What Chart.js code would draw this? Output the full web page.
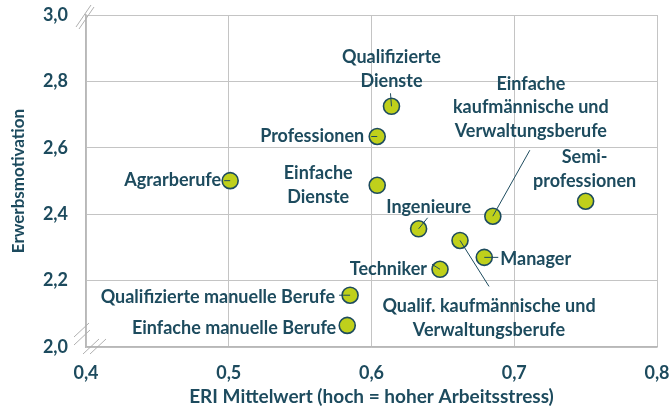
<!DOCTYPE html>
<html><head><meta charset="utf-8">
<script src="https://cdn.jsdelivr.net/npm/chart.js@4/dist/chart.umd.min.js"></script>
<style>html,body{margin:0;padding:0;background:#fff}#wrap{width:671px;height:406px;position:relative}</style>
</head><body><div id="wrap"><canvas id="c"></canvas></div>
<script>
// ---- data ----
const categories = [
  "Agrarberufe","Qualifizierte\nDienste","Professionen","Einfache\nDienste","Ingenieure",
  "Einfache\nkaufmännische und\nVerwaltungsberufe","Semi-\nprofessionen","Qualif. kaufmännische und\nVerwaltungsberufe",
  "Manager","Techniker","Qualifizierte manuelle Berufe","Einfache manuelle Berufe"
];
const eriValues = [0.501, 0.614, 0.604, 0.604, 0.633, 0.685, 0.750, 0.662, 0.679, 0.648, 0.585, 0.583];
const motivationValues = [2.501, 2.725, 2.634, 2.487, 2.356, 2.394, 2.439, 2.321, 2.270, 2.234, 2.156, 2.065];
const xTicks = [0.4, 0.5, 0.6, 0.7, 0.8];
const yTicks = [2.0, 2.2, 2.4, 2.6, 2.8, 3.0];
const xTitle = "ERI Mittelwert (hoch = hoher Arbeitsstress)";
const yTitle = "Erwerbsmotivation";

// ---- styles / label placement (pixel offsets from marker centre) ----
const TXT = "#1d4b5e";
const FONT = "Lato, 'Open Sans', sans-serif";
const labelStyle = [
  {dx:-9, dy:0, align:"right"},
  {dx:0, dy:-37, align:"center"},
  {dx:-13, dy:0, align:"right"},
  {dx:-59, dy:0, align:"center"},
  {dx:10, dy:-22, align:"center"},
  {dx:38, dy:-109, align:"center"},
  {dx:-1, dy:-32, align:"center"},
  {dx:29, dy:78, align:"center"},
  {dx:16, dy:2, align:"left"},
  {dx:-13, dy:0, align:"right"},
  {dx:-15, dy:2, align:"right"},
  {dx:-11, dy:3, align:"right"}
];
const leaders = [
  [-6,0],[-1,-13],[-6,0],null,[9,-11],[37,-66],null,[29,46],[14,0],[-8,-5],[-11,0],null
];

const labelPlugin = {
  id: "labels",
  afterDatasetsDraw(chart) {
    const {ctx} = chart;
    const meta = chart.getDatasetMeta(0);
    ctx.save();
    ctx.strokeStyle = TXT; ctx.lineWidth = 1;
    meta.data.forEach((pt, i) => {
      const l = leaders[i];
      if (!l) return;
      ctx.beginPath(); ctx.moveTo(pt.x + l[0], pt.y + l[1]); ctx.lineTo(pt.x, pt.y); ctx.stroke();
    });
    ctx.font = "bold 18px " + FONT;
    ctx.fillStyle = TXT;
    ctx.textBaseline = "middle";
    const lh = 23.5;
    meta.data.forEach((pt, i) => {
      const s = labelStyle[i];
      const lines = categories[i].split("\n");
      ctx.textAlign = s.align;
      const y0 = pt.y + s.dy - (lines.length - 1) * lh / 2;
      lines.forEach((t, k) => ctx.fillText(t, pt.x + s.dx, y0 + k * lh));
    });
    ctx.restore();
  }
};

const breakPlugin = {
  id: "breaks",
  afterDraw(chart) {
    const {ctx, chartArea:a} = chart;
    ctx.save();
    ctx.strokeStyle = "#b0b0b0"; ctx.lineWidth = 1;
    const segs = [
      [-10,12,5,-10],[-7,14,8,-8],
      [-12,-10,3,-24],[-12,-2,4,-17],
      [-3,7,13,-8],[4,7,20,-8]
    ];
    segs.forEach((s, i) => {
      const oy = i < 2 ? a.top : a.bottom;
      ctx.beginPath(); ctx.moveTo(a.left + s[0], oy + s[1]); ctx.lineTo(a.left + s[2], oy + s[3]); ctx.stroke();
    });
    ctx.restore();
  }
};

const fmt = v => v.toFixed(1).replace(".", ",");

new Chart(document.getElementById("c"), {
  type: "scatter",
  data: {
    datasets: [{
      data: eriValues.map((x, i) => ({x, y: motivationValues[i]})),
      backgroundColor: "#bfd01b",
      borderColor: "#1d4b5e",
      borderWidth: 1.6,
      pointRadius: 8,
      pointHoverRadius: 8
    }]
  },
  options: {
    responsive: true,
    maintainAspectRatio: false,
    animation: false,
    events: [],
    layout: {padding: {top: 15, right: 14, left: 0, bottom: 0}},
    plugins: {legend: {display: false}, tooltip: {enabled: false}},
    scales: {
      x: {
        type: "linear", min: xTicks[0], max: xTicks[xTicks.length - 1],
        afterBuildTicks: s => { s.ticks = xTicks.map(v => ({value: v})); },
        afterFit: s => { s.height = 59; s.paddingLeft = 0; s.paddingRight = 0; },
        ticks: {callback: fmt, color: TXT, font: {family: FONT, size: 18, weight: "bold"}, padding: 15, maxRotation: 0},
        grid: {color: "#c4c4c4", lineWidth: 1, drawTicks: false},
        border: {color: "#b8b8b8", width: 1.5},
        title: {display: true, text: xTitle, color: TXT, font: {family: FONT, size: 19, weight: "bold"}, padding: {top: 0, bottom: -2}}
      },
      y: {
        type: "linear", min: yTicks[0], max: yTicks[yTicks.length - 1],
        afterBuildTicks: s => { s.ticks = yTicks.map(v => ({value: v})); },
        afterFit: s => { s.width = 86; s.paddingTop = 0; s.paddingBottom = 0; },
        ticks: {callback: fmt, color: TXT, font: {family: FONT, size: 18, weight: "bold"}, padding: 18},
        grid: {color: "#c4c4c4", lineWidth: 1, drawTicks: false},
        border: {color: "#b8b8b8", width: 1.5},
        title: {display: true, text: yTitle, color: TXT, font: {family: FONT, size: 17, weight: "bold"}, padding: {top: 8, bottom: 0}}
      }
    }
  },
  plugins: [labelPlugin, breakPlugin]
});
</script></body></html>
